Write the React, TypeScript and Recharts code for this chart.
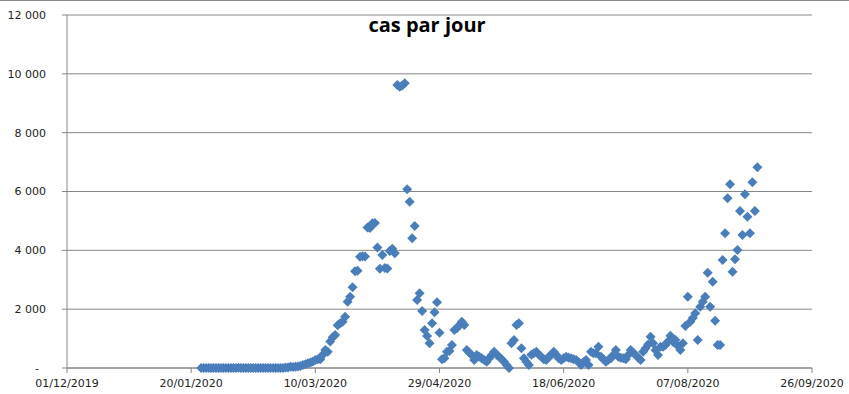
import React from 'react'
import { ScatterChart, Scatter, XAxis, YAxis, CartesianGrid } from 'recharts'

const DAY = 86400000

// daily new cases; each list starts at the date next to it
const janCases = [2, 1, 0, 0, 1, 0, 0, 0]
const febCases = [
  0, 0, 0, 0, 0, 0, 1, 5, 0, 0, 1, 0, 0, 1, 0, 0, 0, 0, 0, 0, 0, 0, 0, 0, 2, 3, 20, 19, 43,
]
const marCases = [
  30, 40, 50, 70, 100, 130, 160, 190, 220, 272, 300, 296, 450, 612, 554, 900, 1043, 1122, 1450, 1520,
  1575, 1745, 2255, 2425, 2744, 3290, 3310, 3780, 3800, 3790, 4780,
]
const aprCases = [
  4760, 4920, 4930, 4100, 3370, 3840, 3400, 3380, 3980, 4050, 3900, 9620, 9560, 9600, 9680, 6076, 5654,
  4410, 4828, 2312, 2540, 1938, 1292, 1088, 840, 1520, 1894, 2234, 1200, 296,
]
const mayCases = [
  330, 554, 580, 782, 1290, 1350, 1460, 1575, 1460, 612, 520, 442, 272, 442, 380, 330, 270, 214, 330, 442,
  554, 450, 384, 300, 214, 100, 0, 840, 952, 1462, 1520,
]
const junCases = [
  670, 330, 200, 102, 450, 500, 554, 450, 384, 300, 272, 380, 442, 554, 450, 330, 272, 330, 384, 350,
  330, 300, 272, 200, 102, 200, 272, 102, 554, 500,
]
const julCases = [
  500, 724, 384, 300, 214, 280, 330, 450, 612, 384, 350, 330, 300, 442, 612, 520, 442, 350, 272, 554,
  670, 800, 1065, 840, 600, 442, 724, 724, 782, 900, 1100,
]
const augCases = [
  894, 952, 750, 612, 840, 1430, 2425, 1575, 1700, 1860, 952, 2085, 2250, 2425, 3240, 2085, 2935, 1608,
  782, 782, 3672, 4580, 5770, 6250, 3275, 3696, 4012, 5338, 4522, 5906, 5144,
]
const sepCases = [4580, 6314, 5338, 6822]

const series: [string, number[]][] = [
  ['2020-01-24', janCases],
  ['2020-02-01', febCases],
  ['2020-03-01', marCases],
  ['2020-04-01', aprCases],
  ['2020-05-01', mayCases],
  ['2020-06-01', junCases],
  ['2020-07-01', julCases],
  ['2020-08-01', augCases],
  ['2020-09-01', sepCases],
]

const xTickDates = ['2019-12-01', '2020-01-20', '2020-03-10', '2020-04-29', '2020-06-18', '2020-08-07', '2020-09-26']
const yTicks = [0, 2000, 4000, 6000, 8000, 10000, 12000]

const data = series.flatMap(([start, vals]) =>
  vals.map((v, i) => ({ t: Date.parse(start) + i * DAY, v })),
)
const xTicks = xTickDates.map(d => Date.parse(d))

const pad = (n: number) => String(n).padStart(2, '0')
const fmtDate = (t: number) => {
  const d = new Date(t)
  return `${pad(d.getUTCDate())}/${pad(d.getUTCMonth() + 1)}/${d.getUTCFullYear()}`
}
const fmtNum = (v: number) => String(v).replace(/\B(?=(\d{3})+(?!\d))/g, ' ')

const FONT = '"DejaVu Sans", sans-serif'
const GRID = '#868686'
const BLUE = '#4A7EBB'

const YTick = (p: any) => {
  const { x, y, payload } = p
  const v = payload.value
  return (
    <text
      x={v === 0 ? x - 7 : x}
      y={y}
      dy="0.35em"
      textAnchor="end"
      fontSize={11}
      fontFamily={FONT}
      fill="#222"
    >
      {v === 0 ? '-' : fmtNum(v)}
    </text>
  )
}

const Diamond = (p: any) => {
  const { cx, cy } = p
  if (cx == null || cy == null) return null
  const r = 5
  return <path d={`M${cx},${cy - r}L${cx + r},${cy}L${cx},${cy + r}L${cx - r},${cy}Z`} fill={BLUE} />
}

export default function App() {
  return (
    <div style={{ position: 'absolute', left: 0, top: 0, width: 849, height: 394, background: '#fff' }}>
      <div style={{ position: 'absolute', left: 0, top: 0, width: 849, height: 1, background: '#8c8c8c' }} />
      <ScatterChart width={849} height={394} margin={{ top: 15, right: 37, bottom: 0, left: 0 }}>
        <CartesianGrid horizontal vertical={false} stroke={GRID} strokeWidth={1} />
        <XAxis
          type="number"
          dataKey="t"
          domain={[xTicks[0], xTicks[xTicks.length - 1]]}
          ticks={xTicks}
          tickFormatter={fmtDate}
          height={26}
          tickSize={5}
          tickMargin={6}
          axisLine={{ stroke: GRID }}
          tickLine={{ stroke: GRID }}
          tick={{ fill: '#222', fontSize: 11, fontFamily: FONT }}
          interval={0}
        />
        <YAxis
          type="number"
          dataKey="v"
          domain={[0, 12000]}
          ticks={yTicks}
          width={67}
          tickSize={5}
          tickMargin={16}
          axisLine={{ stroke: GRID }}
          tickLine={{ stroke: GRID }}
          tick={<YTick />}
          interval={0}
        />
        <Scatter data={data} shape={<Diamond />} isAnimationActive={false} />
      </ScatterChart>
      <div
        style={{
          position: 'absolute',
          left: 327,
          top: 15,
          width: 200,
          textAlign: 'center',
          fontFamily: '"Open Sans", sans-serif',
          fontWeight: 700,
          fontSize: 20,
          lineHeight: '20px',
          color: '#000',
        }}
      >
        cas par jour
      </div>
    </div>
  )
}
